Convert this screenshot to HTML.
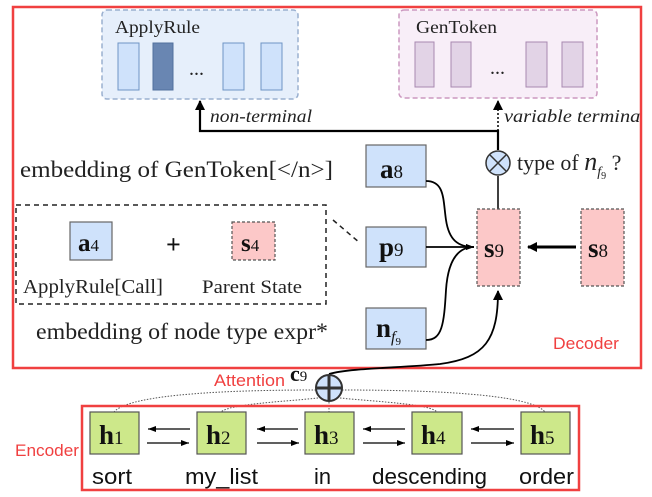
<!DOCTYPE html>
<html><head><meta charset="utf-8"><style>
html,body{margin:0;padding:0;background:#fff;}
svg{display:block;}
.serif{font-family:"Liberation Serif",serif;}
.sans{font-family:"Liberation Sans",sans-serif;}
</style></head><body>
<svg width="652" height="497" viewBox="0 0 652 497" xmlns="http://www.w3.org/2000/svg">
<defs>
<marker id="ah" markerWidth="10" markerHeight="10" refX="9" refY="5" orient="auto" markerUnits="userSpaceOnUse"><path d="M0,0 L10,5 L0,10 z" fill="#000"/></marker>
<marker id="ahs" markerWidth="8" markerHeight="6" refX="8" refY="3" orient="auto" markerUnits="userSpaceOnUse"><path d="M0,0 L8,3 L0,6 z" fill="#000"/></marker>
<clipPath id="dc"><rect x="13" y="6" width="627" height="362"/></clipPath>
</defs>
<!-- ApplyRule -->
<rect x="102" y="10" width="196" height="89" rx="5" fill="#e6effb" stroke="#9ab0d0" stroke-width="1.5" stroke-dasharray="5,3"/>
<text x="115" y="33" class="serif" font-size="18" fill="#222" textLength="85" lengthAdjust="spacingAndGlyphs">ApplyRule</text>
<rect x="118" y="43" width="21" height="47" fill="#cfe2fb" stroke="#6f94c4"/>
<rect x="153" y="43" width="20" height="47" fill="#6986b2" stroke="#51709e"/>
<text x="189" y="75" class="serif" font-size="20" fill="#222">...</text>
<rect x="223" y="43" width="21" height="47" fill="#cfe2fb" stroke="#6f94c4"/>
<rect x="261" y="43" width="21" height="47" fill="#cfe2fb" stroke="#6f94c4"/>
<!-- GenToken -->
<rect x="399" y="10" width="198" height="88" rx="5" fill="#f8eef8" stroke="#cc99c0" stroke-width="1.5" stroke-dasharray="5,3"/>
<text x="416" y="33" class="serif" font-size="18" fill="#222" textLength="81" lengthAdjust="spacingAndGlyphs">GenToken</text>
<rect x="415" y="42" width="19" height="45" fill="#e2d3e6" stroke="#a888b0"/>
<rect x="451" y="42" width="20" height="45" fill="#e2d3e6" stroke="#a888b0"/>
<text x="490" y="74" class="serif" font-size="20" fill="#222">...</text>
<rect x="526" y="42" width="21" height="45" fill="#e2d3e6" stroke="#a888b0"/>
<rect x="562" y="42" width="21" height="45" fill="#e2d3e6" stroke="#a888b0"/>
<!-- routing arrows -->
<polyline points="498,150 498,131 200,131 200,101" fill="none" stroke="#000" stroke-width="2.2" marker-end="url(#ah)"/>
<line x1="498" y1="131" x2="498" y2="101" stroke="#000" stroke-width="1.5" stroke-dasharray="2,2" marker-end="url(#ah)"/>
<text x="210" y="122" class="serif" font-size="18" font-style="italic" fill="#222" textLength="102" lengthAdjust="spacingAndGlyphs">non-terminal</text>
<g clip-path="url(#dc)"><text x="504" y="122" class="serif" font-size="18" font-style="italic" fill="#222" textLength="142" lengthAdjust="spacingAndGlyphs">variable terminal</text></g>
<!-- Decoder box -->
<rect x="13" y="7" width="628" height="361" fill="none" stroke="#f04040" stroke-width="2.5"/>
<!-- otimes -->
<line x1="498" y1="176" x2="498" y2="209" stroke="#000" stroke-width="1.5"/>
<circle cx="498" cy="163" r="12" fill="#cfe2fb" stroke="#333" stroke-width="1.5"/>
<line x1="490" y1="155" x2="506" y2="171" stroke="#333" stroke-width="1.5"/>
<line x1="506" y1="155" x2="490" y2="171" stroke="#333" stroke-width="1.5"/>
<text x="517" y="170" class="serif" font-size="22" fill="#222">type of <tspan font-style="italic" font-size="26">n</tspan><tspan font-style="italic" font-size="14" dy="6">f</tspan><tspan font-size="10" dy="3">9</tspan><tspan dy="-9"> ?</tspan></text>
<text x="20" y="177" class="serif" font-size="23" fill="#222" textLength="313" lengthAdjust="spacingAndGlyphs">embedding of  GenToken[&lt;/n&gt;]</text>
<!-- a8, p9, nf9 -->
<rect x="366" y="145" width="60" height="42" fill="#cfe2fb" stroke="#666" stroke-width="1.2"/>
<text x="380" y="178" class="serif" font-size="27" fill="#111"><tspan font-weight="bold">a</tspan><tspan font-size="19">8</tspan></text>
<rect x="366" y="227" width="60" height="40" fill="#cfe2fb" stroke="#666" stroke-width="1.2"/>
<text x="379" y="256" class="serif" font-size="27" fill="#111"><tspan font-weight="bold">p</tspan><tspan font-size="19">9</tspan></text>
<rect x="366" y="308" width="60" height="41" fill="#cfe2fb" stroke="#666" stroke-width="1.2"/>
<text x="376" y="337" class="serif" font-size="27" fill="#111"><tspan font-weight="bold">n</tspan><tspan font-size="16" font-style="italic" dy="5">f</tspan><tspan font-size="11" dy="3">9</tspan></text>
<!-- s9 s8 -->
<rect x="477" y="209" width="43" height="77" fill="#fcc8c8" stroke="#555" stroke-width="1.2" stroke-dasharray="3,2"/>
<text x="484" y="257" class="serif" font-size="27" fill="#111"><tspan font-weight="bold">s</tspan><tspan font-size="19">9</tspan></text>
<rect x="581" y="209" width="43" height="77" fill="#fcc8c8" stroke="#555" stroke-width="1.2" stroke-dasharray="3,2"/>
<text x="588" y="257" class="serif" font-size="27" fill="#111"><tspan font-weight="bold">s</tspan><tspan font-size="19">8</tspan></text>
<line x1="576" y1="247" x2="528" y2="247" stroke="#000" stroke-width="3" marker-end="url(#ah)"/>
<!-- curves into s9 -->
<path d="M426,181 C445,181 443,200 446,220 C449,240 458,247 474,247" fill="none" stroke="#000" stroke-width="1.8" marker-end="url(#ahs)"/>
<line x1="426" y1="247" x2="474" y2="247" stroke="#000" stroke-width="1.8" marker-end="url(#ahs)"/>
<path d="M426,340 C442,340 444,325 446,290 C448,260 458,247 474,247" fill="none" stroke="#000" stroke-width="1.8"/>
<path d="M329,374 C350,368 400,368 440,364 C485,358 498,340 498,291" fill="none" stroke="#000" stroke-width="1.8" marker-end="url(#ah)"/>
<!-- dashed left box -->
<rect x="16" y="205" width="310" height="99" fill="none" stroke="#222" stroke-width="1.5" stroke-dasharray="5,4"/>
<line x1="333" y1="220" x2="360" y2="243" stroke="#222" stroke-width="1.5" stroke-dasharray="5,4"/>
<rect x="70" y="222" width="42" height="38" fill="#cfe2fb" stroke="#666" stroke-width="1.2"/>
<text x="78" y="251" class="serif" font-size="25" fill="#111"><tspan font-weight="bold">a</tspan><tspan font-size="17">4</tspan></text>
<text x="166" y="253" class="serif" font-size="26" font-weight="bold" fill="#111">+</text>
<rect x="232" y="222" width="43" height="38" fill="#fcc8c8" stroke="#555" stroke-width="1.2" stroke-dasharray="3,2"/>
<text x="241" y="251" class="serif" font-size="25" fill="#111"><tspan font-weight="bold">s</tspan><tspan font-size="17">4</tspan></text>
<text x="23" y="293" class="serif" font-size="20" fill="#222" textLength="140" lengthAdjust="spacingAndGlyphs">ApplyRule[Call]</text>
<text x="202" y="293" class="serif" font-size="19" fill="#222" textLength="100" lengthAdjust="spacingAndGlyphs">Parent State</text>
<text x="36" y="339" class="serif" font-size="23" fill="#222" textLength="292" lengthAdjust="spacingAndGlyphs">embedding of node type expr*</text>
<text x="553" y="349" class="sans" font-size="17" fill="#f04040" textLength="66" lengthAdjust="spacingAndGlyphs">Decoder</text>
<!-- attention -->
<text x="214" y="386" class="sans" font-size="17" fill="#f04040" textLength="71" lengthAdjust="spacingAndGlyphs">Attention</text>
<text x="290" y="381" class="serif" font-size="22" fill="#111"><tspan font-weight="bold">c</tspan><tspan font-size="15">9</tspan></text>
<g fill="none" stroke="#555" stroke-width="1" stroke-dasharray="1.5,1.5">
<path d="M316,390 C240,390 130,393 114,412"/>
<path d="M318,398 C280,402 230,404 221,412"/>
<line x1="329" y1="402" x2="329" y2="412"/>
<path d="M340,398 C380,402 430,404 437,412"/>
<path d="M342,390 C420,390 530,393 545,412"/>
</g>
<circle cx="329" cy="388" r="13" fill="#cfe2fb" stroke="#333" stroke-width="2"/>
<line x1="316" y1="388" x2="342" y2="388" stroke="#333" stroke-width="3"/>
<line x1="329" y1="375" x2="329" y2="401" stroke="#333" stroke-width="3"/>
<!-- encoder -->
<rect x="82" y="406" width="497" height="84" fill="none" stroke="#f04040" stroke-width="2.5"/>
<text x="15" y="456" class="sans" font-size="17" fill="#f04040" textLength="64" lengthAdjust="spacingAndGlyphs">Encoder</text>
<g fill="#cde88a" stroke="#555" stroke-width="1.2">
<rect x="90" y="412" width="49" height="42"/>
<rect x="197" y="412" width="49" height="42"/>
<rect x="305" y="412" width="49" height="42"/>
<rect x="412" y="412" width="50" height="42"/>
<rect x="521" y="412" width="49" height="42"/>
</g>
<g class="serif" font-size="27" fill="#111">
<text x="99" y="444"><tspan font-weight="bold">h</tspan><tspan font-size="19">1</tspan></text>
<text x="206" y="444"><tspan font-weight="bold">h</tspan><tspan font-size="19">2</tspan></text>
<text x="314" y="444"><tspan font-weight="bold">h</tspan><tspan font-size="19">3</tspan></text>
<text x="421" y="444"><tspan font-weight="bold">h</tspan><tspan font-size="19">4</tspan></text>
<text x="530" y="444"><tspan font-weight="bold">h</tspan><tspan font-size="19">5</tspan></text>
</g>
<g stroke="#000" stroke-width="1.3">
<line x1="190" y1="429" x2="148" y2="429" marker-end="url(#ahs)"/>
<line x1="147" y1="443" x2="189" y2="443" marker-end="url(#ahs)"/>
<line x1="298" y1="429" x2="257" y2="429" marker-end="url(#ahs)"/>
<line x1="257" y1="443" x2="299" y2="443" marker-end="url(#ahs)"/>
<line x1="405" y1="429" x2="363" y2="429" marker-end="url(#ahs)"/>
<line x1="363" y1="443" x2="405" y2="443" marker-end="url(#ahs)"/>
<line x1="514" y1="429" x2="471" y2="429" marker-end="url(#ahs)"/>
<line x1="471" y1="443" x2="514" y2="443" marker-end="url(#ahs)"/>
</g>
<g class="sans" font-size="22" fill="#111">
<text x="92" y="484" textLength="40" lengthAdjust="spacingAndGlyphs">sort</text>
<text x="185" y="484" textLength="73" lengthAdjust="spacingAndGlyphs">my_list</text>
<text x="314" y="484" textLength="17" lengthAdjust="spacingAndGlyphs">in</text>
<text x="372" y="484" textLength="115" lengthAdjust="spacingAndGlyphs">descending</text>
<text x="519" y="484" textLength="55" lengthAdjust="spacingAndGlyphs">order</text>
</g>
</svg>
</body></html>
